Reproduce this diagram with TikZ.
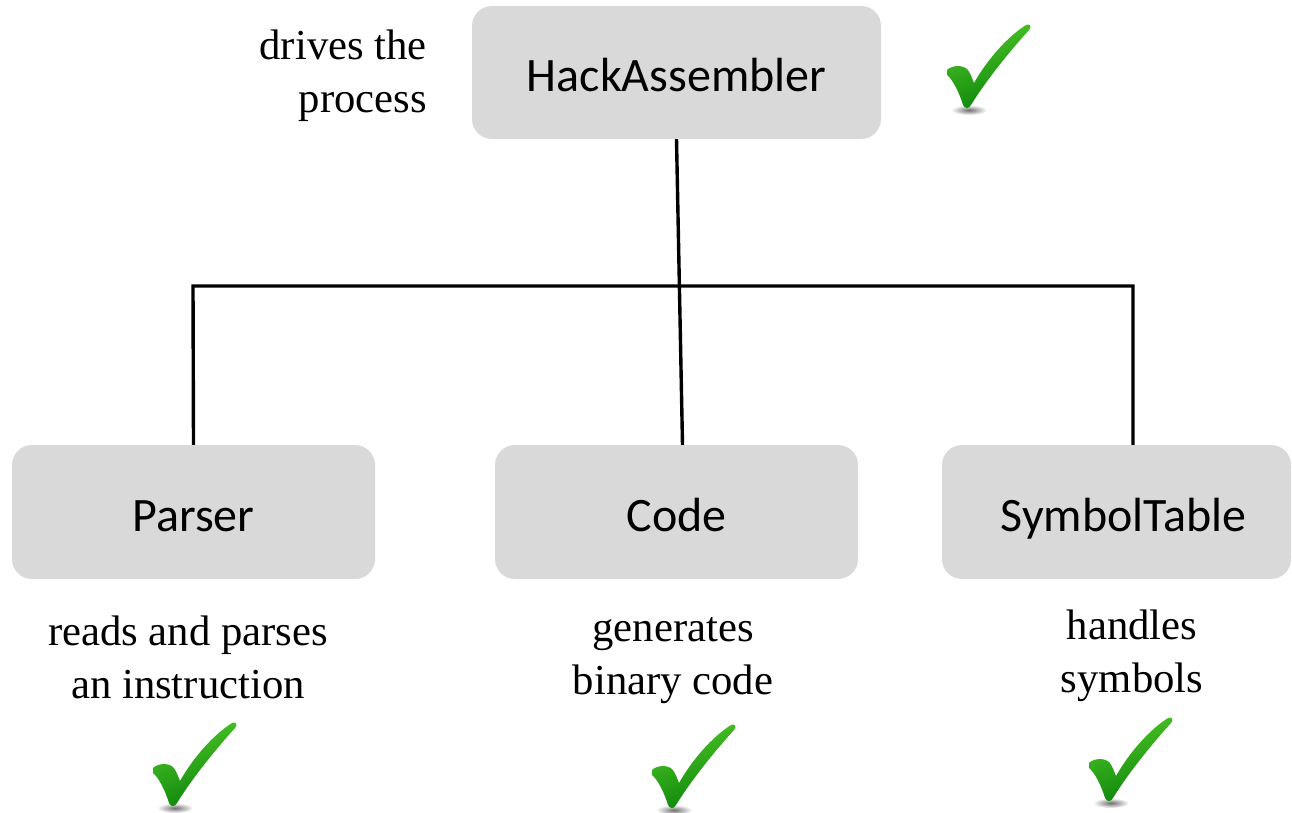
\documentclass[tikz,border=0pt]{standalone}
\usepackage{fontspec}
\setmainfont{Liberation Serif}
\newfontfamily\boxfont{Carlito}
\usetikzlibrary{calc,fadings}

\definecolor{boxgray}{RGB}{217,217,217}
\definecolor{checklight}{RGB}{80,200,40}
\definecolor{checkdark}{RGB}{10,130,10}

\tikzfading[name=soft shadow, inner color=transparent!20, outer color=transparent!100]

\tikzset{
  module/.style={fill=boxgray, rounded corners=20pt, inner sep=0pt,
    minimum width=363pt, minimum height=134pt,
    text height=38pt, text depth=0pt,
    font=\boxfont\fontsize{48}{58}\selectfont},
  note/.style={inner sep=0pt, font=\fontsize{42.7}{53}\selectfont},
  link/.style={line width=3.4pt, black},
  checkmark/.pic={
    % soft shadow under the tip
    \fill[black!70, path fading=soft shadow] (22,38) ellipse [x radius=18, y radius=5];
    % the tick itself
    \shade[top color=checklight, bottom color=checkdark, shading angle=20]
      (0,-2) .. controls (4,-6) and (14,-8) .. (20,-3)
      .. controls (23,0) and (25,6) .. (27,11)
      .. controls (40,-12) and (60,-35) .. (79,-47)
      .. controls (83,-49) and (85,-45) .. (82,-42)
      .. controls (62,-20) and (38,10) .. (24,33)
      .. controls (22,37) and (18,37) .. (16,33)
      .. controls (12,20) and (6,8) .. (0,3) -- cycle;
  }
}

\begin{document}
\begin{tikzpicture}[x=1pt, y=-1pt]
  \useasboundingbox (0,0) rectangle (1292,812);

  % modules
  \node[module, minimum width=409pt, minimum height=133pt] (hack) at (676.5,72.5) {HackAssembler};
  \node[module] (parser) at (193.5,512) {Parser};
  \node[module] (code) at (676.5,512) {Code};
  \node[module, minimum width=349pt] (sym) at (1116.5,512) {\hspace*{14pt}SymbolTable};

  % tree connectors
  \coordinate (jl) at (193,286);
  \coordinate (jr) at (1133,286);
  \draw[link] (parser.north) -- (jl) -- (jr) -- (jr |- sym.north);
  \draw[link] (hack.south) -- ($(code.north)+(6,0)$);

  % descriptions
  \node[note, align=right, anchor=east] (dHack) at (427,76) {drives the\\process};
  \node[note, align=center] (dParser) at (188,657) {reads and parses\\an instruction};
  \node[note, align=center] (dCode) at (673,661) {generates\\binary code};
  \node[note, align=center] (dSym) at (1132,656) {handles\\symbols};

  % ticks
  \pic at (947,72) {checkmark};
  \pic at (153,770) {checkmark};
  \pic at (652,772) {checkmark};
  \pic at (1089,765) {checkmark};
\end{tikzpicture}
\end{document}
